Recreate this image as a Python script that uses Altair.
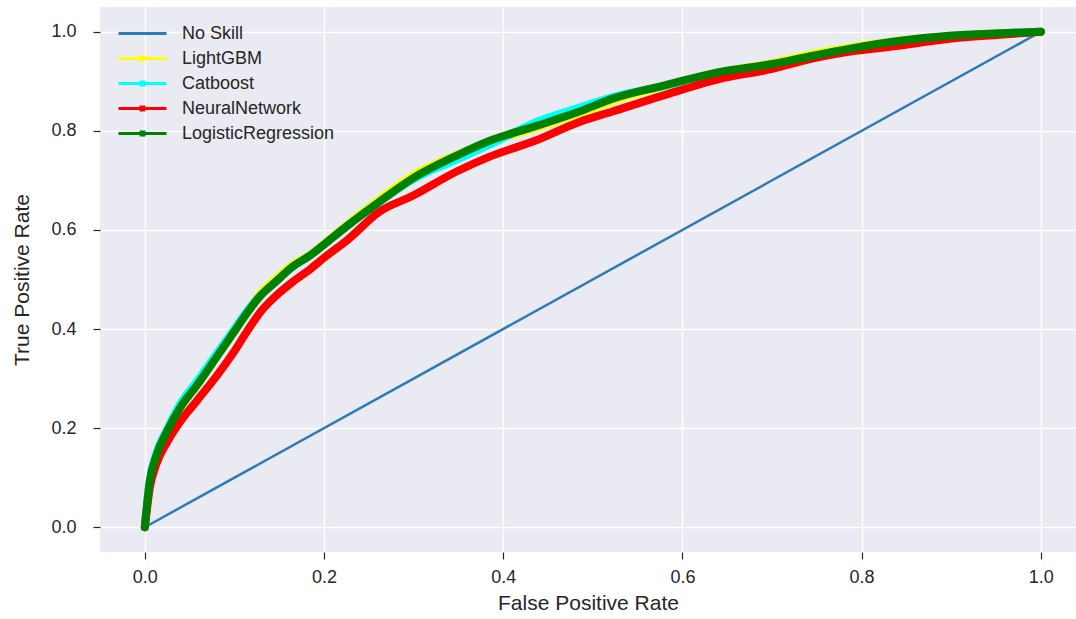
import altair as alt
import pandas as pd

models = ["No Skill", "LightGBM", "Catboost", "NeuralNetwork", "LogisticRegression"]
colors = ["#2c7bb6", "#ffff00", "#00ffff", "#ff0000", "#008000"]

noskill_fpr = [0.0, 1.0]
noskill_tpr = [0.0, 1.0]

fpr = [0.0, 0.0056, 0.013, 0.025, 0.039, 0.058, 0.080, 0.098, 0.114, 0.128, 0.147,
       0.165, 0.184, 0.203, 0.225, 0.262, 0.299, 0.348, 0.385, 0.437, 0.485, 0.522,
       0.578, 0.642, 0.70, 0.731, 0.787, 0.843, 0.898, 0.954, 1.0]

lgbm_tpr = [0.0, 0.093, 0.145, 0.194, 0.240, 0.286, 0.343, 0.390, 0.434, 0.470, 0.503,
            0.530, 0.550, 0.577, 0.610, 0.662, 0.710, 0.752, 0.778, 0.806, 0.835, 0.860,
            0.889, 0.918, 0.937, 0.950, 0.969, 0.982, 0.991, 0.997, 1.0]
cat_tpr = [0.0, 0.095, 0.150, 0.198, 0.247, 0.294, 0.350, 0.395, 0.436, 0.466, 0.497,
           0.526, 0.548, 0.575, 0.607, 0.657, 0.702, 0.742, 0.772, 0.818, 0.847, 0.868,
           0.890, 0.917, 0.934, 0.945, 0.964, 0.980, 0.990, 0.997, 1.0]
nn_tpr = [0.0, 0.080, 0.128, 0.172, 0.212, 0.255, 0.305, 0.350, 0.395, 0.432, 0.468,
          0.495, 0.520, 0.548, 0.578, 0.637, 0.669, 0.718, 0.748, 0.781, 0.818, 0.839,
          0.871, 0.905, 0.925, 0.940, 0.960, 0.972, 0.986, 0.994, 1.0]
lr_tpr = [0.0, 0.093, 0.145, 0.194, 0.240, 0.286, 0.343, 0.390, 0.432, 0.465, 0.497,
          0.526, 0.548, 0.575, 0.607, 0.657, 0.704, 0.750, 0.780, 0.810, 0.839, 0.865,
          0.891, 0.919, 0.935, 0.946, 0.966, 0.982, 0.992, 0.997, 1.0]

ticks = [0.0, 0.2, 0.4, 0.6, 0.8, 1.0]

rows = []
for x, y in zip(noskill_fpr, noskill_tpr):
    rows.append({"model": "No Skill", "fpr": x, "tpr": y})
for name, tp in [("LightGBM", lgbm_tpr), ("Catboost", cat_tpr),
                 ("NeuralNetwork", nn_tpr), ("LogisticRegression", lr_tpr)]:
    for x, y in zip(fpr, tp):
        rows.append({"model": name, "fpr": x, "tpr": y})
df = pd.DataFrame(rows)

FONT = "Liberation Sans"
TXT = "#262626"

# legend glyphs: plain line for No Skill, line with a dot for the models
PLAIN = "M-2,0L2,0"
DOTTED = "M-2,0L2,0M-0.12,-0.12L0.12,-0.12L0.12,0.12L-0.12,0.12Z"
symbol_expr = alt.ExprRef(expr=f"datum.label == 'No Skill' ? '{PLAIN}' : '{DOTTED}'")

xenc = alt.X("fpr:Q", title="False Positive Rate",
             scale=alt.Scale(domain=[-0.05, 1.0393], nice=False, zero=False),
             axis=alt.Axis(values=ticks, format=".1f"))
yenc = alt.Y("tpr:Q", title="True Positive Rate",
             scale=alt.Scale(domain=[-0.05, 1.05], nice=False, zero=False),
             axis=alt.Axis(values=ticks, format=".1f"))
color = alt.Color("model:N", sort=models,
                  scale=alt.Scale(domain=models, range=colors),
                  legend=alt.Legend(title=None, orient="none", legendX=29, legendY=13,
                                    symbolType=symbol_expr, symbolSize=576,
                                    symbolStrokeWidth=3, labelFontSize=18,
                                    labelFont=FONT, labelColor=TXT, labelOffset=26,
                                    rowPadding=2, padding=0))

layers = []
for m in models:
    sw = 2.5 if m == "No Skill" else 8
    layers.append(
        alt.Chart(df).transform_filter(alt.datum.model == m)
        .mark_line(strokeWidth=sw, strokeCap="round", strokeJoin="round",
                   interpolate="monotone")
        .encode(x=xenc, y=yenc, color=color, order="fpr:Q")
    )

chart = alt.layer(*layers).properties(
    width=976, height=545,
    autosize=alt.AutoSizeParams(type="none"),
    padding={"left": 100, "top": 7, "right": 0, "bottom": 67},
    background="white",
).configure_view(
    fill="#EAEAF2", strokeWidth=0
).configure_axis(
    grid=True, gridColor="white", gridWidth=1.4, domain=False,
    tickColor=TXT, tickSize=7, tickWidth=1.2,
    labelFont=FONT, labelFontSize=18, labelColor=TXT,
    titleFont=FONT, titleFontSize=21, titleColor=TXT, titleFontWeight="normal",
).configure_axisY(
    labelPadding=17, titlePadding=18
).configure_axisX(
    labelPadding=9, titlePadding=6
)

chart.save("out.html", embed_options={"renderer": "svg", "actions": False})
